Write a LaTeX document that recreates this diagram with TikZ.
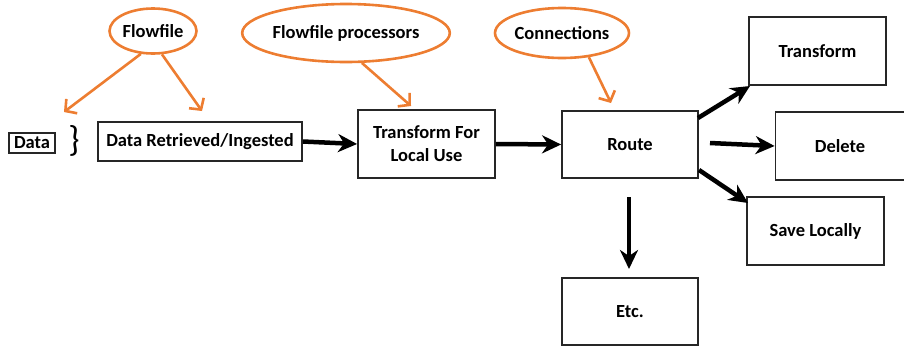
\documentclass[tikz,border=0pt]{standalone}
\usepackage{fontspec}
\setmainfont{Carlito}
\usetikzlibrary{shapes.geometric,arrows.meta,calc}
\definecolor{orng}{RGB}{237,125,49}
\tikzset{
  box/.style={draw=black!85, line width=1.8pt, fill=white, inner sep=0pt, font=\fontsize{18.5}{23}\selectfont\bfseries, align=center},
  bubble/.style={ellipse, draw=orng, line width=2.6pt, inner sep=0pt, font=\fontsize{18.5}{23}\selectfont\bfseries},
  oarrow/.style={draw=orng, line width=2.6pt, -{Straight Barb[length=8pt,width=18pt,line width=2.6pt]}},
  barrow/.style={draw=black, line width=4.5pt, -{Stealth[length=19pt,width=18pt,inset=6pt]}}
}
\begin{document}
\begin{tikzpicture}[x=1pt,y=-1pt]
\useasboundingbox (0,0) rectangle (904,346);
% boxes
\node[box, minimum width=46pt, minimum height=20pt, line width=2pt] (data) at (32,143) {Data};
\node[font=\fontsize{36}{36}\selectfont] (brace) at (74,141) {\}};
\node[box, minimum width=204pt, minimum height=39pt] (dr) at (200,141.5) {Data Retrieved/Ingested};
\node[box, minimum width=137pt, minimum height=68pt] (tf) at (426.5,144) {Transform For\\Local Use};
\node[box, minimum width=136pt, minimum height=67pt] (rt) at (630,144.5) {Route};
\node[box, minimum width=137pt, minimum height=68pt] (tr) at (817.5,51) {Transform};
\node[box, minimum width=129pt, minimum height=68pt] (del) at (840,146) {Delete};
\node[box, minimum width=137pt, minimum height=68pt] (sv) at (815.5,231) {Save Locally};
\node[box, minimum width=136pt, minimum height=67pt] (etc) at (630,311.5) {Etc.};
% bubbles
\node[bubble, minimum width=87pt, minimum height=45pt] (ff) at (153,31) {Flowfile};
\node[bubble, minimum width=172pt, minimum height=58pt] (fp) at (346,33) {Flowfile processors};
\node[bubble, minimum width=116pt, minimum height=50pt] (cn) at (562,33) {Connections};
% coordinates
\coordinate (t1) at (64,112);
\coordinate (t2) at (202,111);
\coordinate (t3) at (411,106);
\coordinate (t4) at (611,103);
\coordinate (s1) at (698,118);
\coordinate (s2) at (710,143);
\coordinate (s3) at (699,170);
\coordinate (s4) at (629,197);
\coordinate (e4) at (629,269);
\coordinate (e3) at (748,203);
\coordinate (e1) at (750,86);
% orange arrows
\draw[oarrow] (ff.242) -- (t1);
\draw[oarrow] (ff.291) -- (t2);
\draw[oarrow] (fp.298) -- (t3);
\draw[oarrow] (cn.318) -- (t4);
% black arrows
\draw[barrow] (dr.east) -- (tf.west);
\draw[barrow] (tf.east) -- (rt.west);
\draw[barrow] (s1) -- (e1);
\draw[barrow] (s2) -- (del.west);
\draw[barrow] (s3) -- (e3);
\draw[barrow] (s4) -- (e4);
\end{tikzpicture}
\end{document}
